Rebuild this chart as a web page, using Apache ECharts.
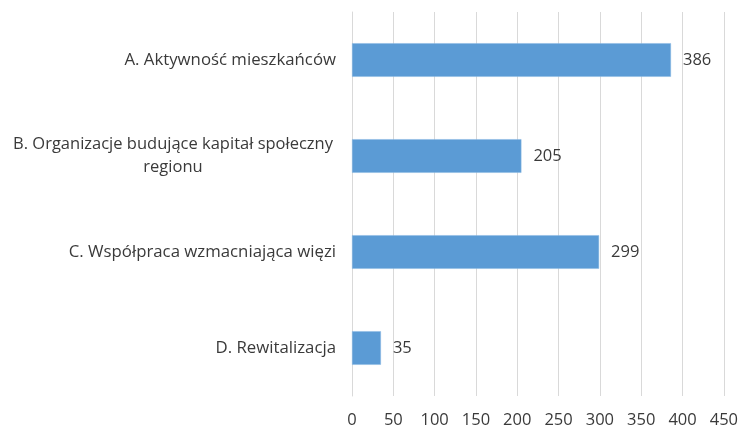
<!DOCTYPE html>
<html>
<head>
<meta charset="utf-8">
<script src="https://cdn.jsdelivr.net/npm/echarts@6/dist/echarts.min.js"></script>
<style>
  html, body { margin: 0; padding: 0; background: #ffffff; }
  #chart { width: 741px; height: 429px; }
</style>
</head>
<body>
<div id="chart"></div>
<script>
// Categories listed top to bottom
const categories = [
  'A. Aktywność mieszkańców',
  'B. Organizacje budujące kapitał społeczny\nregionu',
  'C. Współpraca wzmacniająca więzi',
  'D. Rewitalizacja'
];
const values = [386, 205, 299, 35];
const tickLabels = ['0', '50', '100', '150', '200', '250', '300', '350', '400', '450'];

const FONT = '"Open Sans", "Liberation Sans", sans-serif';
const TEXT = '#3a3a3a';

const chart = echarts.init(document.getElementById('chart'), null, { renderer: 'canvas' });

chart.setOption({
  animation: false,
  backgroundColor: '#ffffff',
  grid: { left: 352, right: 17, top: 12, bottom: 32, containLabel: false },
  xAxis: {
    type: 'value',
    min: 0,
    max: 450,
    interval: 50,
    axisLine: { show: false },
    axisTick: { show: false },
    splitLine: { show: true, lineStyle: { color: '#d9d9d9', width: 1 } },
    axisLabel: {
      color: TEXT,
      fontFamily: FONT,
      fontSize: 16.5,
      margin: 16,
      formatter: (v) => tickLabels[Math.round(v / 50)]
    }
  },
  yAxis: {
    type: 'category',
    inverse: true,
    data: categories,
    axisLine: { show: true, lineStyle: { color: '#d9d9d9' } },
    axisTick: { show: false },
    axisLabel: {
      color: TEXT,
      fontFamily: FONT,
      fontSize: 16.8,
      margin: 16,
      formatter: (v) => {
        if (v.indexOf('\n') >= 0) {
          return v.split('\n').map(s => '{c|' + s + '}').join('\n');
        }
        return v;
      },
      rich: {
        c: { width: 326, align: 'center', color: TEXT, fontFamily: FONT, fontSize: 16.5, lineHeight: 23 }
      }
    }
  },
  series: [{
    type: 'bar',
    data: values,
    barWidth: '35%',
    itemStyle: { color: '#5b9bd5', borderColor: '#8ab8e2', borderWidth: 0.5 },
    label: {
      show: true,
      position: 'right',
      distance: 12,
      color: TEXT,
      fontFamily: FONT,
      fontSize: 16.5
    }
  }]
});
</script>
</body>
</html>
